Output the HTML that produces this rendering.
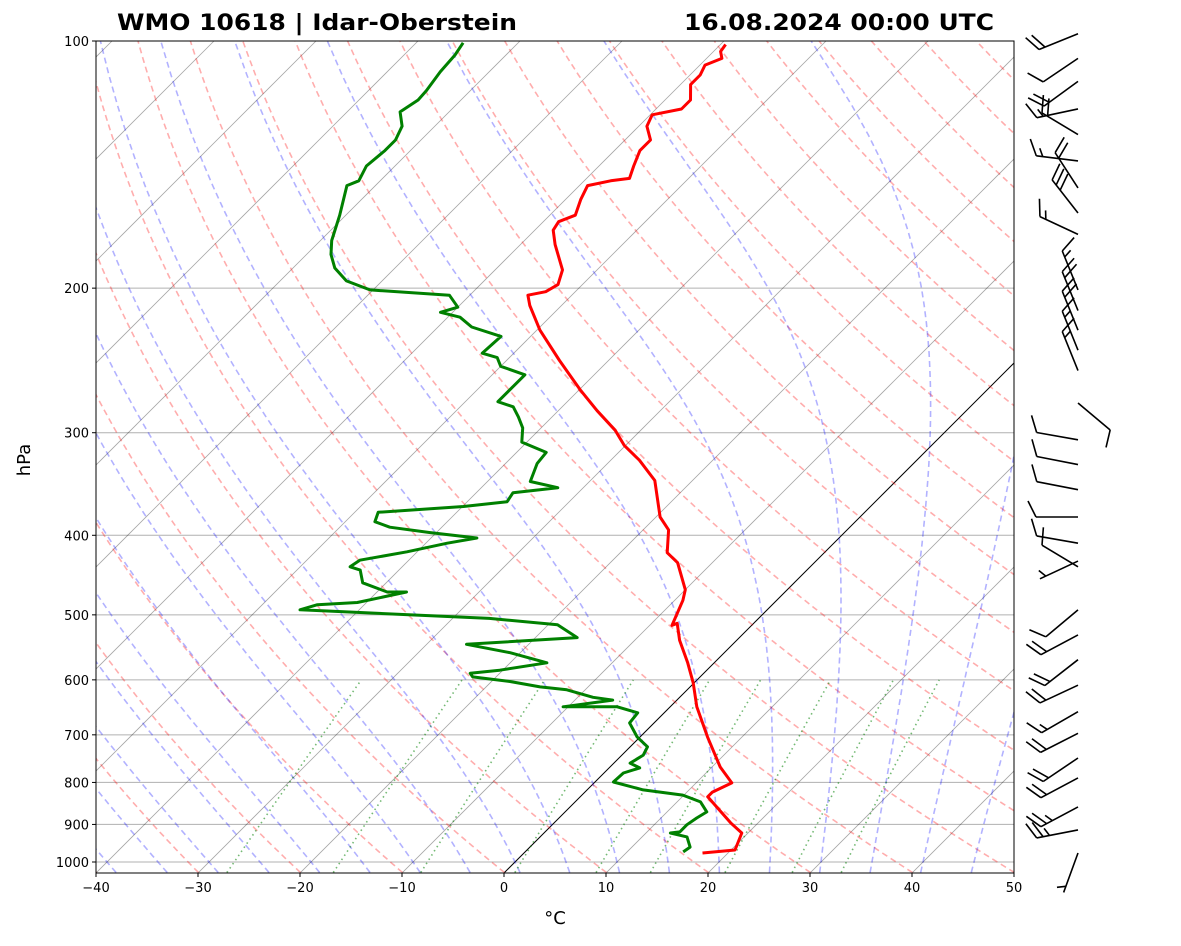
<!DOCTYPE html>
<html><head><meta charset="utf-8"><style>
html,body{margin:0;padding:0;background:#fff;}
svg text{font-family:"DejaVu Sans","Liberation Sans",sans-serif;}
</style></head><body>
<svg id="chart" xmlns="http://www.w3.org/2000/svg" width="1181" height="941" viewBox="0 0 1181 941">
<defs><clipPath id="plotclip"><rect x="96" y="41" width="918" height="832"/></clipPath></defs>
<rect x="0" y="0" width="1181" height="941" fill="#fff"/>
<g id="bg" clip-path="url(#plotclip)"></g>
<g id="prof" clip-path="url(#plotclip)"></g>
<rect x="96" y="41" width="918" height="832" fill="none" stroke="#000" stroke-width="1"/>
<g id="axes"></g>
<g id="barbs"></g>
<text x="117" y="30" font-size="22" font-weight="bold" textLength="400" lengthAdjust="spacingAndGlyphs">WMO 10618 | Idar-Oberstein</text>
<text x="684" y="30" font-size="22" font-weight="bold" textLength="310" lengthAdjust="spacingAndGlyphs">16.08.2024 00:00 UTC</text>
<text x="0" y="0" font-size="18" text-anchor="middle" transform="translate(30,460) rotate(-90)">hPa</text>
<text x="555" y="924" font-size="18" text-anchor="middle">°C</text>
</svg>
<script>
const TEMP_P=[975,967,922,896,833,822,801,766,704,647,605,572,537,512,515,480,466,432,420,394,380,343,324,311,298,282,266,245,225,210,204,202,198,190,177,170,166,163,156,150,148,147,142,136,132,127,123,121,118,113,110,107,105,103,101];
const TEMP_T=[17.5,20.4,19.4,17.3,12.5,12.5,13.5,10.8,6.6,2.6,-0.1,-2.6,-5.6,-7.5,-7.8,-9.2,-10.0,-13.4,-15.4,-17.5,-19.6,-23.7,-27.2,-30.1,-32.5,-36.2,-39.9,-44.8,-49.7,-53.1,-54.3,-52.9,-52.4,-53.4,-56.6,-58.2,-58.5,-57.5,-58.5,-59.2,-57.4,-55.8,-56.6,-57.5,-57.5,-59.2,-59.8,-57.5,-57.5,-59.0,-59.0,-59.5,-58.5,-59.3,-59.5];
const DEW_P=[972,959,932,922,919,901,884,869,845,829,817,799,779,768,758,741,724,704,677,658,647,647,635,630,617,612,603,595,589,584,572,556,543,533,514,505,493,486,483,469,469,457,441,437,429,419,409,403,397,391,385,375,369,364,355,350,344,327,317,308,296,287,279,275,266,255,249,243,240,229,223,217,214,211,204,201,196,189,182,175,163,150,148,142,136,132,127,122,118,115,109,104,100.5];
const DEW_T=[15.5,15.7,14.4,12.4,13.2,13.2,13.5,13.9,12.3,9.9,5.5,1.8,1.9,3.0,1.6,2.1,1.7,-0.3,-2.4,-2.6,-5.2,-10.5,-6.3,-8.5,-11.8,-14.7,-18.1,-22.3,-22.9,-20.3,-16.4,-21.0,-26.1,-15.9,-19.1,-26.4,-45.8,-44.6,-40.9,-37.1,-39.0,-42.3,-43.8,-45.1,-44.8,-41.0,-37.9,-35.5,-40.6,-45.1,-47.1,-47.7,-39.9,-36.1,-36.4,-32.5,-35.8,-36.9,-37.1,-40.5,-41.8,-43.3,-44.8,-46.8,-46.8,-46.8,-50.0,-51.2,-53.1,-52.9,-56.7,-58.8,-61.2,-60.0,-62.0,-70.3,-73.5,-75.9,-77.6,-78.9,-80.6,-82.8,-82.1,-82.8,-82.5,-82.5,-83.2,-84.8,-84.2,-84.3,-84.8,-85.0,-85.4];
const BARB_P=[975,914,857,790,747,697,656,609,567,529,493,437,430,409,380,352,328,306,276,252,238,225,213,201,172,162,151,140,130,121,112,105,98];
const BARB_DIR=[200,259,242,242,236,243,240,245,232,242,230,301,245,280,270,281,281,280,130,338,338,338,338,338,295,322,327,277,301,258,234,236,248];
const BARB_SPD=[5,25,25,20,20,20,15,20,20,20,10,10,5,10,10,10,10,10,10,15,15,20,20,15,15,30,20,15,20,15,20,10,20];
const P_TICKS=[100,200,300,400,500,600,700,800,900,1000];
const T_TICKS=[-40,-30,-20,-10,0,10,20,30,40,50];

const NS='http://www.w3.org/2000/svg';
const PBOT=1030, PTOP=100;
function yP(p){return 41+821*Math.log10(p/100);}
function xT(T,p){return 96+(T+40)*10.2+(873-yP(p));}
function mk(tag,attrs,parent){const e=document.createElementNS(NS,tag);for(const k in attrs)e.setAttribute(k,attrs[k]);parent.appendChild(e);return e;}
function pathD(ps,ts){let d='';for(let i=0;i<ps.length;i++){d+=(i?'L':'M')+xT(ts[i],ps[i]).toFixed(1)+','+yP(ps[i]).toFixed(1);}return d;}
const bg=document.getElementById('bg'), prof=document.getElementById('prof'), axes=document.getElementById('axes'), barbs=document.getElementById('barbs');

for(const p of P_TICKS){
  const l=mk('line',{x1:96,x2:1014,y1:yP(p),y2:yP(p),stroke:'#b0b0b0','stroke-width':1},bg);
  
  
}
for(let T=-130;T<=50;T+=10){
  const l=mk('line',{x1:xT(T,PBOT),y1:yP(PBOT),x2:xT(T,PTOP),y2:yP(PTOP),stroke:T===0?'#000':'rgba(0,0,0,0.35)','stroke-width':T===0?1:0.8},bg);
  
  
}
const PS=[];for(let p=PBOT;p>=PTOP;p-=5)PS.push(p);
for(let t0=-40;t0<=200;t0+=10){
  const ts=PS.map(p=>(t0+273.15)*Math.pow(p/PBOT,0.2857)-273.15);
  const e=mk('path',{d:pathD(PS,ts),fill:'none',stroke:'rgba(255,0,0,0.32)','stroke-width':1.6,'stroke-dasharray':'6 4'},bg);
  
  
}
function es(T){return 6.112*Math.exp(17.67*T/(T+243.5));}
function dTdp(T,p){const Tk=T+273.15;const e=es(T);const rs=0.622*e/(p-e);const Rd=287,Cp=1005,Lv=2.5e6;
  return (Rd*Tk+Lv*rs)/(p*(Cp+Lv*Lv*rs*0.622/(Rd*Tk*Tk)));}
for(let t0=-40;t0<=50;t0+=5){
  const up=[],upT=[];let T=t0;
  for(let p=1000;p>=PTOP;p-=2){if(p%10===0){up.push(p);upT.push(T);}T-=dTdp(T,p)*2;}
  let T2=t0;
  for(let p=1000;p<PBOT;p+=2){T2+=dTdp(T2,p)*2;}
  const ps=[PBOT].concat(up), ts=[T2].concat(upT);
  const e=mk('path',{d:pathD(ps,ts),fill:'none',stroke:'rgba(0,0,255,0.3)','stroke-width':1.6,'stroke-dasharray':'6 4'},bg);
  
  
}
const MIX_W=[0.0004,0.001,0.002,0.004,0.007,0.01,0.016,0.024,0.032];
for(const w of MIX_W){
  const ps=[],ts=[];
  for(let p=PBOT;p>=600;p-=10){const e=p*w/(0.622+w);const l=Math.log(e/6.112);ps.push(p);ts.push(243.5*l/(17.67-l));}
  const e=mk('path',{d:pathD(ps,ts),fill:'none',stroke:'rgba(0,128,0,0.55)','stroke-width':1.6,'stroke-dasharray':'1.5 3.5'},bg);
  
  
}
const tl=mk('path',{d:pathD(TEMP_P,TEMP_T),fill:'none',stroke:'#ff0000','stroke-width':3,'stroke-linejoin':'round'},prof);


const dl=mk('path',{d:pathD(DEW_P,DEW_T),fill:'none',stroke:'#008000','stroke-width':3,'stroke-linejoin':'round'},prof);



for(const p of P_TICKS){
  const y=yP(p);
  const t=mk('line',{x1:92,x2:96,y1:y,y2:y,stroke:'#000','stroke-width':1},axes);
  
  
  const lb=mk('text',{x:89,y:y+5,'font-size':13,'text-anchor':'end'},axes);
  lb.textContent=p;
  
  
}
for(const T of T_TICKS){
  const x=96+(T+40)*10.2;
  const t=mk('line',{x1:x,x2:x,y1:873,y2:877,stroke:'#000','stroke-width':1},axes);
  
  
  const lb=mk('text',{x:x,y:892,'font-size':13,'text-anchor':'middle'},axes);
  lb.textContent=(T<0?'\u2212'+(-T):T);
  
  
}
const BX=1078, L=42, SP=6.5, FL=16;
for(let i=0;i<BARB_P.length;i++){
  const y=yP(BARB_P[i]);const a=BARB_DIR[i]*Math.PI/180;
  const dx=Math.sin(a), dy=-Math.cos(a);
  const tx=BX+dx*L, ty=y+dy*L;
  const px=-dy, py=dx;
  const g=mk('g',{stroke:'#000','stroke-width':1.6,fill:'none'},barbs);
  
  
  mk('line',{x1:BX,y1:y,x2:tx,y2:ty},g);
  let s=BARB_SPD[i];let full=Math.floor(s/10);let half=(s%10)>=5?1:0;
  let pos=0;
  if(full===0&&half===1)pos=1;
  for(let k=0;k<full;k++){const sx=tx-dx*SP*pos, sy=ty-dy*SP*pos;mk('line',{x1:sx,y1:sy,x2:sx+px*FL+dx*FL*0.5,y2:sy+py*FL+dy*FL*0.5},g);pos++;}
  if(half){const sx=tx-dx*SP*pos, sy=ty-dy*SP*pos;mk('line',{x1:sx,y1:sy,x2:sx+(px*FL+dx*FL*0.5)/2,y2:sy+(py*FL+dy*FL*0.5)/2},g);}
}
</script>
</body></html>
